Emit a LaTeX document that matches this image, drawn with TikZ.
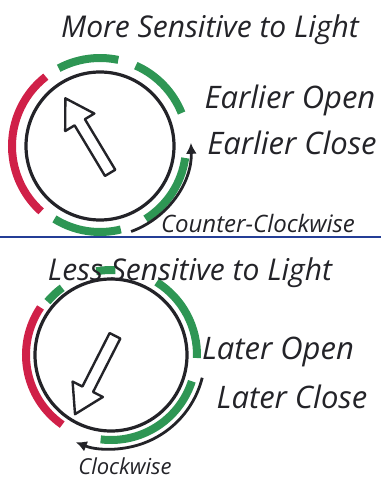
\documentclass[tikz,border=0pt]{standalone}
\usepackage{fontspec}
\setmainfont{Open Sans}
\usepackage{tikz}
\usetikzlibrary{arrows.meta, positioning}
\definecolor{DialRed}{RGB}{208,32,72}
\definecolor{DialGreen}{RGB}{46,150,84}
\definecolor{RuleBlue}{RGB}{36,62,150}
\definecolor{InkBlack}{RGB}{35,35,40}

\begin{document}
\begin{tikzpicture}[x=1pt, y=1pt,
    dial/.style={circle, draw=InkBlack, line width=3.2pt, inner sep=0pt},
    redband/.style={draw=DialRed, line width=8pt},
    greenband/.style={draw=DialGreen, line width=8pt},
    knob/.style={draw=InkBlack, line width=2.4pt, fill=white, line join=round},
    turn/.style={-{Latex[length=11pt,width=11pt]}, draw=InkBlack, line width=2.8pt},
    title/.style={font=\itshape\fontsize{30}{34}\selectfont, text=InkBlack},
    effect/.style={font=\itshape\fontsize{31}{36}\selectfont, text=InkBlack},
    direction/.style={font=\itshape\fontsize{24}{28}\selectfont, text=InkBlack}
]
\useasboundingbox (0,0) rectangle (381,483);

% more sensitive
\node[title] (moreTitle) at (210,453) {More Sensitive to Light};
\node[dial, minimum size=148pt] (dialA) at (100,337) {};
\draw[redband] ([shift={(128:88)}]dialA.center) arc[start angle=128, end angle=228, radius=88];
\draw[greenband] ([shift={(118:88)}]dialA.center) arc[start angle=118, end angle=78, radius=88];
\draw[greenband] ([shift={(66:88)}]dialA.center) arc[start angle=66, end angle=22, radius=88];
\draw[greenband] ([shift={(-8:86)}]dialA.center) arc[start angle=-8, end angle=-58, radius=86];
\draw[greenband] ([shift={(238:86)}]dialA.center) arc[start angle=238, end angle=284, radius=86];
\begin{scope}[shift={(dialA.center)}, shift={(-12,10)}, rotate=121]
  \draw[knob] (-43,-6) -- (16,-6) -- (16,-17) -- (44,0) -- (16,17) -- (16,6) -- (-43,6) -- cycle;
\end{scope}
\draw[turn] ([shift={(-70:91)}]dialA.center) arc[start angle=-70, end angle=2, radius=91];
\node[effect] (earlyOpen) at (290,383) {Earlier Open};
\node[effect] (earlyClose) at (292,340) {Earlier Close};
\node[direction] (ccw) at (258,259) {Counter-Clockwise};

\draw[RuleBlue, line width=2pt] (0,246) -- (381,246);

% less sensitive
\node[dial, minimum size=152pt] (dialB) at (111,128) {};
\draw[redband] ([shift={(146:85)}]dialB.center) arc[start angle=146, end angle=235, radius=85];
\draw[greenband] ([shift={(140:83)}]dialB.center) arc[start angle=140, end angle=126, radius=83];
\draw[greenband] ([shift={(100:85)}]dialB.center) arc[start angle=100, end angle=87, radius=85];
\draw[greenband] ([shift={(58:86)}]dialB.center) arc[start angle=58, end angle=-2, radius=86];
\draw[greenband] ([shift={(-18:85)}]dialB.center) arc[start angle=-18, end angle=-97, radius=85];
\node[title] (lessTitle) at (190,210) {Less Sensitive to Light};
\begin{scope}[shift={(dialB.center)}, shift={(-16,-20)}, rotate=243]
  \draw[knob] (-44,-6) -- (16,-6) -- (16,-17) -- (44,0) -- (16,17) -- (16,6) -- (-44,6) -- cycle;
\end{scope}
\draw[turn] ([shift={(-14:94)}]dialB.center) arc[start angle=-14, end angle=-112, radius=94];
\node[effect] (lateOpen) at (278,131) {Later Open};
\node[effect] (lateClose) at (292,86) {Later Close};
\node[direction, font=\itshape\fontsize{22}{26}\selectfont] (cw) at (125,17) {Clockwise};
\end{tikzpicture}
\end{document}
